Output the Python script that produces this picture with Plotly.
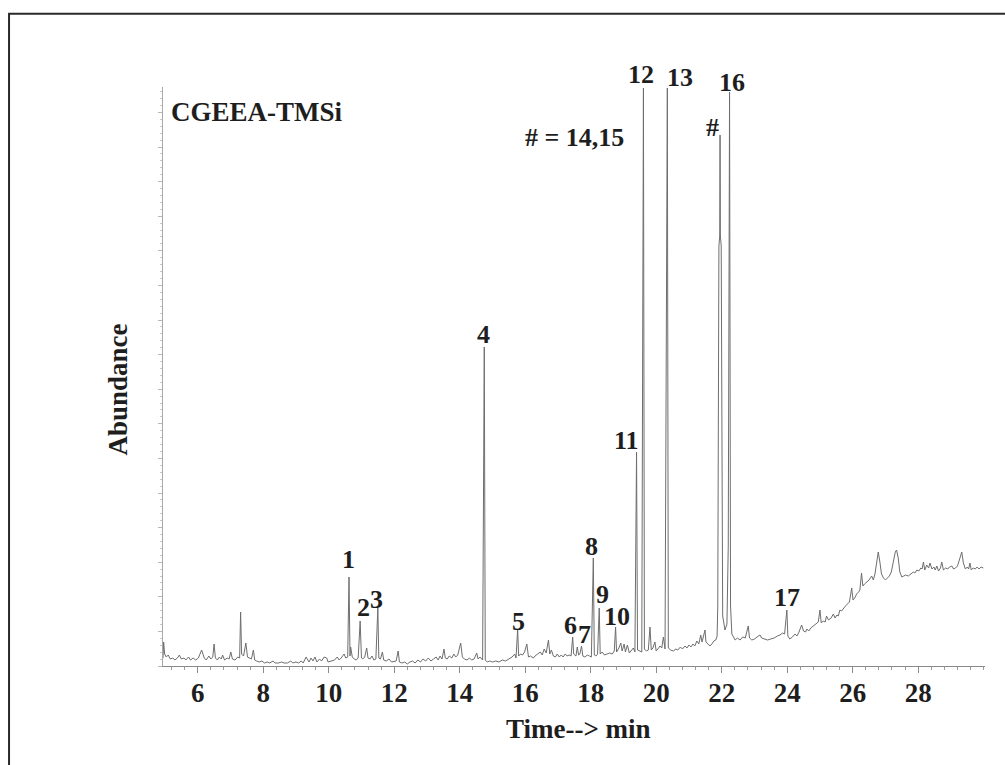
import plotly.graph_objects as go

# ---- chromatogram (retention time [min], abundance [arb. units]) ----
early = [(4.94, 8), (4.96, 24), (4.99, 12), (5.04, 9), (5.10, 11), (5.16, 7), (5.24, 8), (5.30, 6),
         (5.38, 8), (5.44, 11), (5.50, 7), (5.58, 8), (5.64, 6), (5.72, 9), (5.78, 6), (5.86, 8),
         (5.94, 6), (6.02, 8), (6.12, 16), (6.20, 8), (6.26, 6), (6.34, 10), (6.40, 7), (6.46, 9),
         (6.50, 22), (6.54, 8), (6.60, 6), (6.66, 9), (6.72, 7), (6.76, 11), (6.82, 6), (6.90, 8),
         (6.96, 7), (7.01, 14), (7.06, 7), (7.14, 6), (7.22, 9), (7.28, 8), (7.31, 54), (7.34, 12),
         (7.40, 10), (7.47, 23), (7.52, 9), (7.58, 8), (7.64, 7), (7.70, 16), (7.74, 6), (7.80, 5),
         (7.88, 4), (7.96, 5), (8.04, 3), (8.12, 4), (8.20, 3), (8.30, 5), (8.36, 3), (8.46, 3),
         (8.56, 4), (8.64, 3), (8.74, 3), (8.84, 5), (8.90, 3), (9.00, 4), (9.08, 3), (9.16, 5),
         (9.22, 3), (9.31, 9), (9.40, 4), (9.46, 8), (9.52, 5), (9.58, 9), (9.64, 4), (9.72, 7),
         (9.78, 5), (9.86, 9), (9.94, 8), (9.98, 4), (10.08, 5), (10.18, 6), (10.26, 9), (10.32, 6),
         (10.38, 8), (10.47, 12), (10.52, 8), (10.58, 9), (10.62, 89), (10.65, 10), (10.67, 19),
         (10.72, 9), (10.78, 7), (10.84, 6), (10.90, 8), (10.96, 45), (11.00, 8), (11.04, 7),
         (11.10, 9), (11.16, 18), (11.20, 8), (11.26, 7), (11.32, 10), (11.38, 6), (11.44, 7),
         (11.50, 58), (11.53, 8), (11.58, 7), (11.64, 14), (11.68, 6), (11.76, 5), (11.84, 7),
         (11.92, 4)]

middle = [(12.00, 5), (12.06, 5), (12.12, 15), (12.16, 4), (12.24, 3), (12.32, 4), (12.40, 2),
          (12.48, 4), (12.56, 5), (12.64, 3), (12.72, 6), (12.80, 4), (12.88, 7), (12.96, 5),
          (13.04, 8), (13.12, 5), (13.20, 7), (13.28, 9), (13.34, 6), (13.40, 10), (13.46, 7),
          (13.52, 17), (13.56, 8), (13.62, 7), (13.68, 10), (13.76, 8), (13.82, 12), (13.88, 9),
          (13.94, 11), (14.03, 23), (14.08, 9), (14.14, 7), (14.22, 6), (14.30, 8), (14.36, 6),
          (14.44, 7), (14.52, 13), (14.56, 7), (14.62, 9), (14.70, 6), (14.75, 319), (14.78, 6),
          (14.84, 4), (14.92, 5), (15.00, 4), (15.10, 5), (15.20, 4), (15.30, 6), (15.40, 5),
          (15.50, 7), (15.60, 9), (15.68, 12), (15.72, 8), (15.77, 37), (15.80, 10), (15.86, 12),
          (15.92, 11), (15.98, 14), (16.05, 22), (16.10, 9), (16.16, 10), (16.25, 8), (16.30, 10),
          (16.38, 12), (16.46, 14), (16.52, 11), (16.58, 17), (16.64, 13), (16.71, 26), (16.75, 12),
          (16.80, 16), (16.86, 10), (16.92, 9), (16.98, 12), (17.04, 9), (17.10, 11), (17.16, 9),
          (17.22, 12), (17.28, 10), (17.34, 11), (17.40, 10), (17.45, 29), (17.48, 12), (17.55, 10),
          (17.59, 19), (17.63, 11), (17.67, 12), (17.72, 20), (17.76, 10), (17.82, 9), (17.90, 11),
          (17.96, 10), (18.02, 9), (18.08, 108), (18.11, 11), (18.16, 10), (18.21, 12), (18.26, 58),
          (18.29, 12), (18.35, 14), (18.42, 11), (18.50, 12), (18.58, 13), (18.66, 12), (18.72, 15),
          (18.76, 39), (18.79, 14), (18.86, 18), (18.92, 23), (18.96, 15), (19.02, 22), (19.06, 14),
          (19.12, 21), (19.18, 13), (19.24, 15), (19.30, 18), (19.35, 14), (19.40, 214), (19.43, 16),
          (19.50, 15), (19.56, 14), (19.61, 578), (19.64, 17), (19.70, 15), (19.76, 16), (19.81, 39),
          (19.85, 16), (19.90, 18), (19.96, 24), (20.00, 15), (20.06, 17), (20.12, 20), (20.17, 18),
          (20.22, 29), (20.27, 17), (20.34, 578), (20.37, 18), (20.44, 16), (20.52, 15), (20.60, 17),
          (20.66, 16), (20.74, 19), (20.80, 17), (20.88, 20), (20.94, 18), (21.00, 21), (21.06, 19),
          (21.12, 22), (21.18, 20), (21.24, 25), (21.30, 22), (21.36, 31), (21.40, 24), (21.45, 30),
          (21.49, 36), (21.52, 24), (21.58, 22), (21.64, 20), (21.70, 22), (21.76, 25), (21.82, 26),
          (21.86, 30)]

late = [(21.88, 60), (21.90, 200), (21.915, 420), (21.94, 430), (21.95, 531), (21.96, 430),
        (21.985, 420), (22.00, 200), (22.03, 50),
        (22.10, 36), (22.16, 42), (22.20, 120), (22.24, 574), (22.27, 60), (22.31, 32), (22.36, 29),
        (22.41, 26), (22.48, 28), (22.56, 26), (22.64, 29), (22.72, 28), (22.81, 40), (22.85, 28),
        (22.92, 26), (23.00, 27), (23.08, 29), (23.17, 31), (23.22, 28), (23.30, 27), (23.40, 26),
        (23.50, 27), (23.60, 28), (23.70, 30), (23.78, 31), (23.86, 33), (23.92, 32), (23.99, 56),
        (24.02, 30), (24.08, 27), (24.16, 29), (24.24, 32), (24.30, 30), (24.36, 34), (24.44, 41),
        (24.50, 35), (24.56, 34), (24.60, 37), (24.66, 35), (24.72, 38), (24.80, 40), (24.88, 42),
        (24.95, 44), (25.00, 56), (25.04, 43), (25.10, 45), (25.16, 44), (25.20, 50), (25.26, 46),
        (25.34, 48), (25.41, 52), (25.46, 48), (25.52, 51), (25.56, 50), (25.61, 56), (25.66, 55),
        (25.72, 58), (25.78, 60), (25.84, 62), (25.90, 64), (25.97, 78), (26.01, 66), (26.06, 68),
        (26.12, 72), (26.18, 74), (26.22, 76), (26.27, 93), (26.31, 80), (26.36, 82), (26.43, 84),
        (26.50, 86), (26.58, 90), (26.63, 86), (26.68, 92), (26.73, 105), (26.78, 114), (26.83, 104),
        (26.88, 92), (26.94, 88), (27.00, 86), (27.06, 88), (27.12, 90), (27.18, 94), (27.24, 104),
        (27.30, 114), (27.34, 116), (27.39, 108), (27.44, 94), (27.50, 89), (27.56, 90), (27.62, 91),
        (27.70, 90), (27.78, 92), (27.85, 94), (27.90, 93), (27.96, 96), (28.02, 95), (28.08, 98),
        (28.12, 97), (28.16, 104), (28.20, 96), (28.26, 101), (28.32, 98), (28.36, 103), (28.42, 97),
        (28.48, 99), (28.52, 96), (28.57, 100), (28.62, 95), (28.68, 98), (28.72, 104), (28.77, 96),
        (28.84, 98), (28.90, 97), (28.96, 99), (29.03, 100), (29.08, 97), (29.14, 98), (29.20, 100),
        (29.26, 106), (29.33, 114), (29.38, 103), (29.44, 97), (29.50, 99), (29.54, 97), (29.58, 103),
        (29.62, 96), (29.68, 98), (29.74, 97), (29.80, 99), (29.86, 97), (29.92, 99), (29.99, 98)]

# ---- peak labels ----
label_text = ["1", "2", "3", "4", "5", "6", "7", "8", "9", "10", "11", "12", "13", "#", "16", "17"]
label_time = [10.61, 11.05, 11.47, 14.72, 15.78, 17.37, 17.82, 18.03, 18.37, 18.80, 19.08,
              19.54, 20.73, 21.73, 22.31, 23.99]
label_abund = [107, 59, 67, 332, 45, 41, 32, 120, 72, 50, 226, 592, 588, 539, 583, 69]

note_text = "# = 14,15"
note_time, note_abund = 17.51, 529
sample_name = "CGEEA-TMSi"
sample_time, sample_abund = 5.12, 554

x_ticks = [6, 8, 10, 12, 14, 16, 18, 20, 22, 24, 26, 28]
X_RANGE = [4.94, 30.04]
Y_MAX = 579

points = early + middle + late
time_min = [p[0] for p in points]
abundance = [p[1] for p in points]

SERIF = "Liberation Serif"
INK = "#1e1e1e"
LABEL_FONT = dict(family=SERIF, size=26, color=INK, weight="bold")

fig = go.Figure()
fig.add_trace(go.Scatter(x=time_min, y=abundance, mode="lines",
                         line=dict(color="#6e6e6e", width=1), hoverinfo="skip",
                         showlegend=False))

for txt, t, a in zip(label_text, label_time, label_abund):
    # labels standing above the axis top are placed relative to the y-axis domain
    if a > Y_MAX:
        fig.add_annotation(x=t, y=a / Y_MAX, xref="x", yref="y domain", text=txt,
                           showarrow=False, xanchor="center", yanchor="middle", font=LABEL_FONT)
    else:
        fig.add_annotation(x=t, y=a, xref="x", yref="y", text=txt, showarrow=False,
                           xanchor="center", yanchor="middle", font=LABEL_FONT)

fig.add_annotation(x=note_time, y=note_abund, xref="x", yref="y", text=note_text,
                   showarrow=False, xanchor="center", yanchor="middle", font=LABEL_FONT)
fig.add_annotation(x=sample_time, y=sample_abund, xref="x", yref="y", text=sample_name,
                   xanchor="left", yanchor="middle", showarrow=False,
                   font=dict(family=SERIF, size=27, color=INK, weight="bold"))

# axis titles
fig.add_annotation(x=0.505, y=-0.109, xref="paper", yref="paper", text="Time--> min",
                   xanchor="center", yanchor="middle", showarrow=False,
                   font=dict(family=SERIF, size=27, color=INK, weight="bold"))
fig.add_annotation(x=-0.055, y=0.477, xref="paper", yref="paper", text="Abundance",
                   xanchor="center", yanchor="middle", textangle=-90, showarrow=False,
                   font=dict(family=SERIF, size=27, color=INK, weight="bold"))

# outer frame (right/bottom edges fall outside the page)
fig.add_shape(type="rect", xref="paper", yref="paper", x0=-0.1873, x1=1.05, y0=-0.2, y1=1.1265,
              line=dict(color="#2a2a2a", width=2), fillcolor="rgba(0,0,0,0)")

fig.update_xaxes(range=X_RANGE, tickvals=x_ticks, ticktext=[str(v) for v in x_ticks],
                 showline=True, linecolor="#8a8a8a", linewidth=1, showgrid=False, zeroline=False,
                 ticks="outside", ticklen=6, tickwidth=1, tickcolor="#8a8a8a",
                 ticklabelstandoff=-3,
                 minor=dict(dtick=0.4, tick0=6, ticks="outside", ticklen=3, tickcolor="#9a9a9a",
                            showgrid=False),
                 tickfont=dict(family=SERIF, size=27, color=INK, weight="bold"))
fig.update_yaxes(range=[0, Y_MAX], showline=True, linecolor="#a8a8a8", linewidth=1, showgrid=False,
                 zeroline=False, ticks="outside", ticklen=4, tickwidth=1, tickcolor="#b8b8b8",
                 tick0=0, dtick=34.6, showticklabels=False,
                 minor=dict(dtick=6.92, ticks="outside", ticklen=2, tickcolor="#c8c8c8",
                            showgrid=False))

fig.update_layout(width=1005, height=765, margin=dict(l=163, r=20, t=87, b=99),
                  paper_bgcolor="white", plot_bgcolor="white", showlegend=False)

fig.write_html("out.html", config={"displayModeBar": False},
               post_script="document.body.style.margin='0px';document.body.style.overflow='hidden';")
